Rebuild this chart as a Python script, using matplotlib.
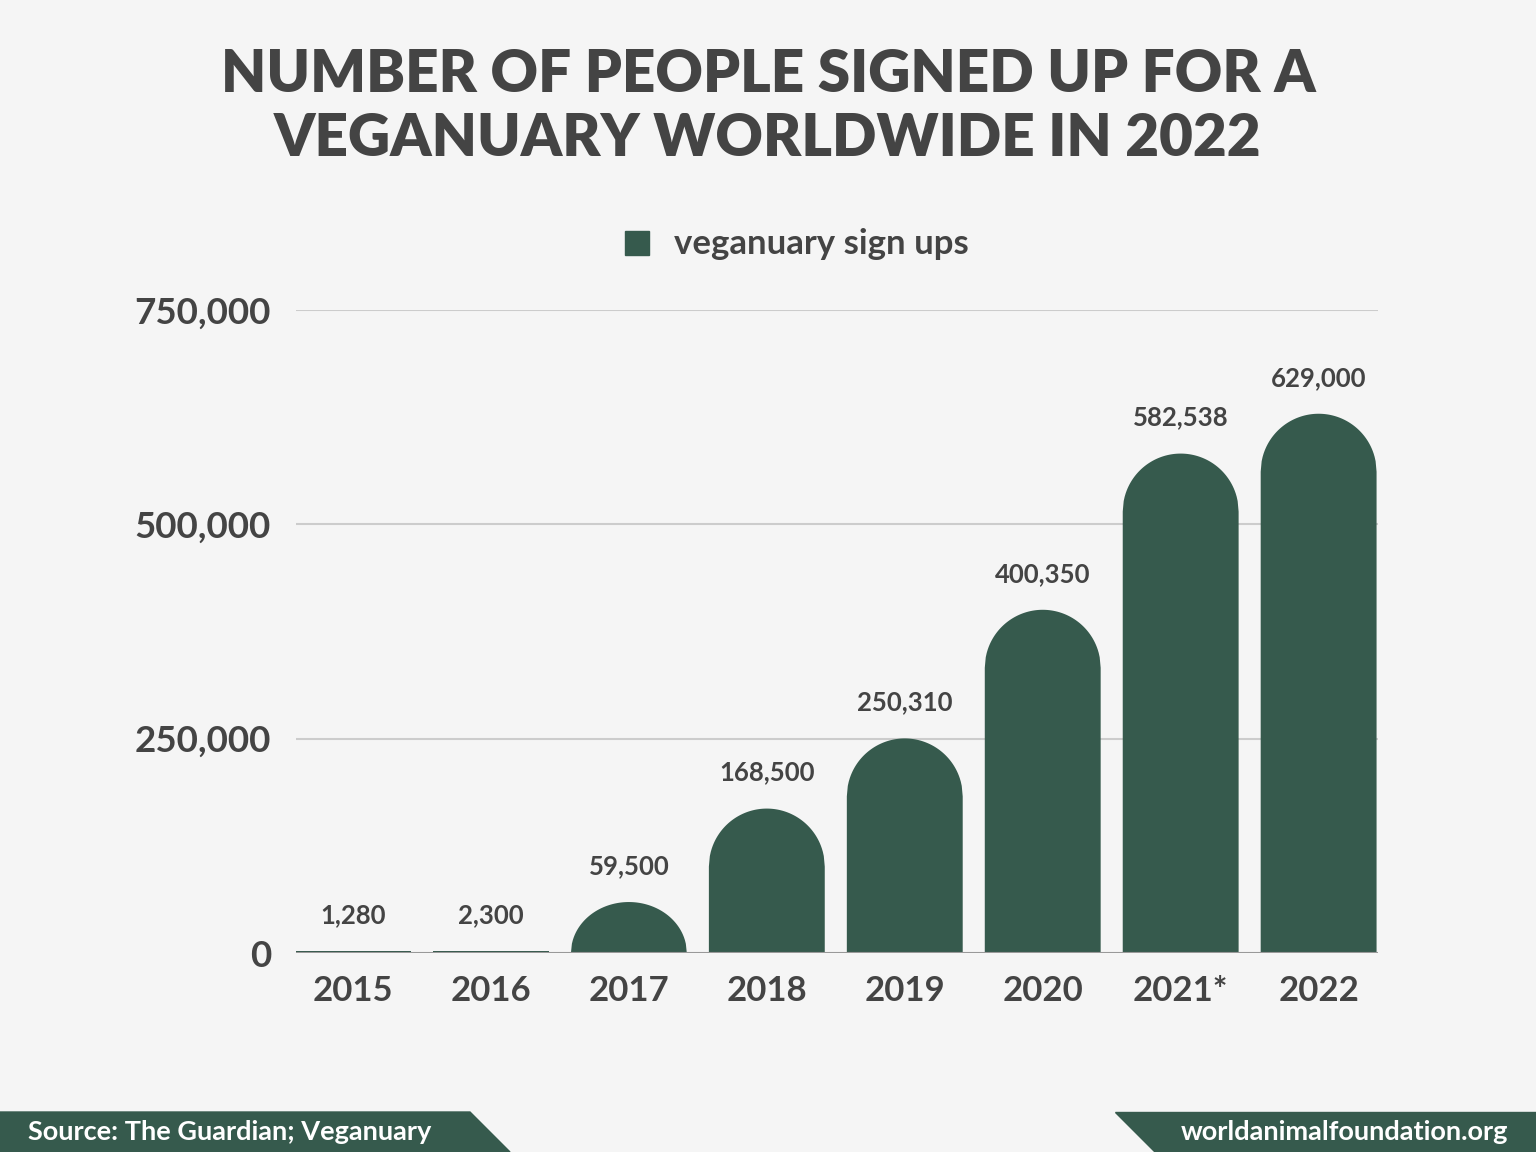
import numpy as np
import matplotlib
matplotlib.use("Agg")
import matplotlib.pyplot as plt
from matplotlib.patches import Polygon, Rectangle

years = ["2015", "2016", "2017", "2018", "2019", "2020", "2021*", "2022"]
signups = [1280, 2300, 59500, 168500, 250310, 400350, 582538, 629000]
labels = ["1,280", "2,300", "59,500", "168,500", "250,310", "400,350", "582,538", "629,000"]
yticks = [0, 250000, 500000, 750000]
ytick_labels = ["0", "250,000", "500,000", "750,000"]

BG = "#f5f5f5"
GREEN = "#365a4d"
TXT = "#444444"
FONT = "Lato"

fig = plt.figure(figsize=(15.36, 11.52), dpi=100, facecolor=BG)
ax = fig.add_axes([0.1927, 0.1727, 0.7044, 0.5582], facecolor=BG)
ax.set_xlim(-0.413, 7.43)
ax.set_ylim(0, 750000)

# bar geometry: half width in data, dome radius in y-data (semicircle in pixels)
hw = 0.42
px_per_y = (953 - 310) / 750000
ry_full = 58 / px_per_y
for i, v in enumerate(signups):
    ry = min(ry_full, v * 0.9) if v > ry_full else v
    xs = np.linspace(-hw, hw, 121)
    top = v - ry * (1 - np.sqrt(np.clip(1 - (xs / hw) ** 2, 0, 1)))
    top = np.maximum(top, 0)
    if v < 10000:
        top = np.full_like(xs, max(v, 2500))
    pts = [(i - hw, 0)] + list(zip(i + xs, top)) + [(i + hw, 0)]
    ax.add_patch(Polygon(pts, closed=True, color=GREEN, lw=0, zorder=3))
    ax.text(i, max(v, 2500) + 28000, labels[i], ha="center", va="bottom",
            fontsize=18.5, fontweight="bold", color=TXT, family=FONT)

for y in yticks[1:]:
    ax.axhline(y, color="#cccccc", lw=1.5, zorder=1)
ax.axhline(0, color="#999999", lw=1.5, zorder=4)
ax.set_yticks(yticks)
ax.set_yticklabels(ytick_labels, fontsize=26.5, fontweight="bold", color=TXT, family=FONT)
ax.set_xticks(range(len(years)))
ax.set_xticklabels(years, fontsize=25, fontweight="bold", color=TXT, family=FONT)
ax.tick_params(length=0, pad=16)
ax.tick_params(axis="y", pad=18)
for s in ax.spines.values():
    s.set_visible(False)

fig.text(0.5, 0.935, "NUMBER OF PEOPLE SIGNED UP FOR A", ha="center", va="center",
         fontsize=42, fontweight=900, color=TXT, family=FONT)
fig.text(0.5, 0.880, "VEGANUARY WORLDWIDE IN 2022", ha="center", va="center",
         fontsize=42, fontweight=900, color=TXT, family=FONT)

# legend
fig.patches.append(Rectangle((625 / 1536, 1 - 255 / 1152), 24 / 1536, 24 / 1152,
                             transform=fig.transFigure, color=GREEN))
fig.text(674 / 1536, 1 - 244 / 1152, "veganuary sign ups", ha="left", va="center",
         fontsize=25, fontweight="bold", color=TXT, family=FONT)

# footer banners
H = 40 / 1152
fig.patches.append(Polygon([(0, 0), (510 / 1536, 0), (470 / 1536, H), (0, H)],
                           closed=True, transform=fig.transFigure, color=GREEN))
fig.patches.append(Polygon([(1155 / 1536, 0), (1, 0), (1, H), (1115 / 1536, H)],
                           closed=True, transform=fig.transFigure, color=GREEN))
fig.text(28 / 1536, H / 2, "Source: The Guardian; Veganuary", ha="left", va="center",
         fontsize=19.5, fontweight="bold", color="white", family=FONT)
fig.text(1508 / 1536, H / 2, "worldanimalfoundation.org", ha="right", va="center",
         fontsize=19.5, fontweight="bold", color="white", family=FONT)

fig.savefig("out.png", dpi=100, facecolor=BG)
